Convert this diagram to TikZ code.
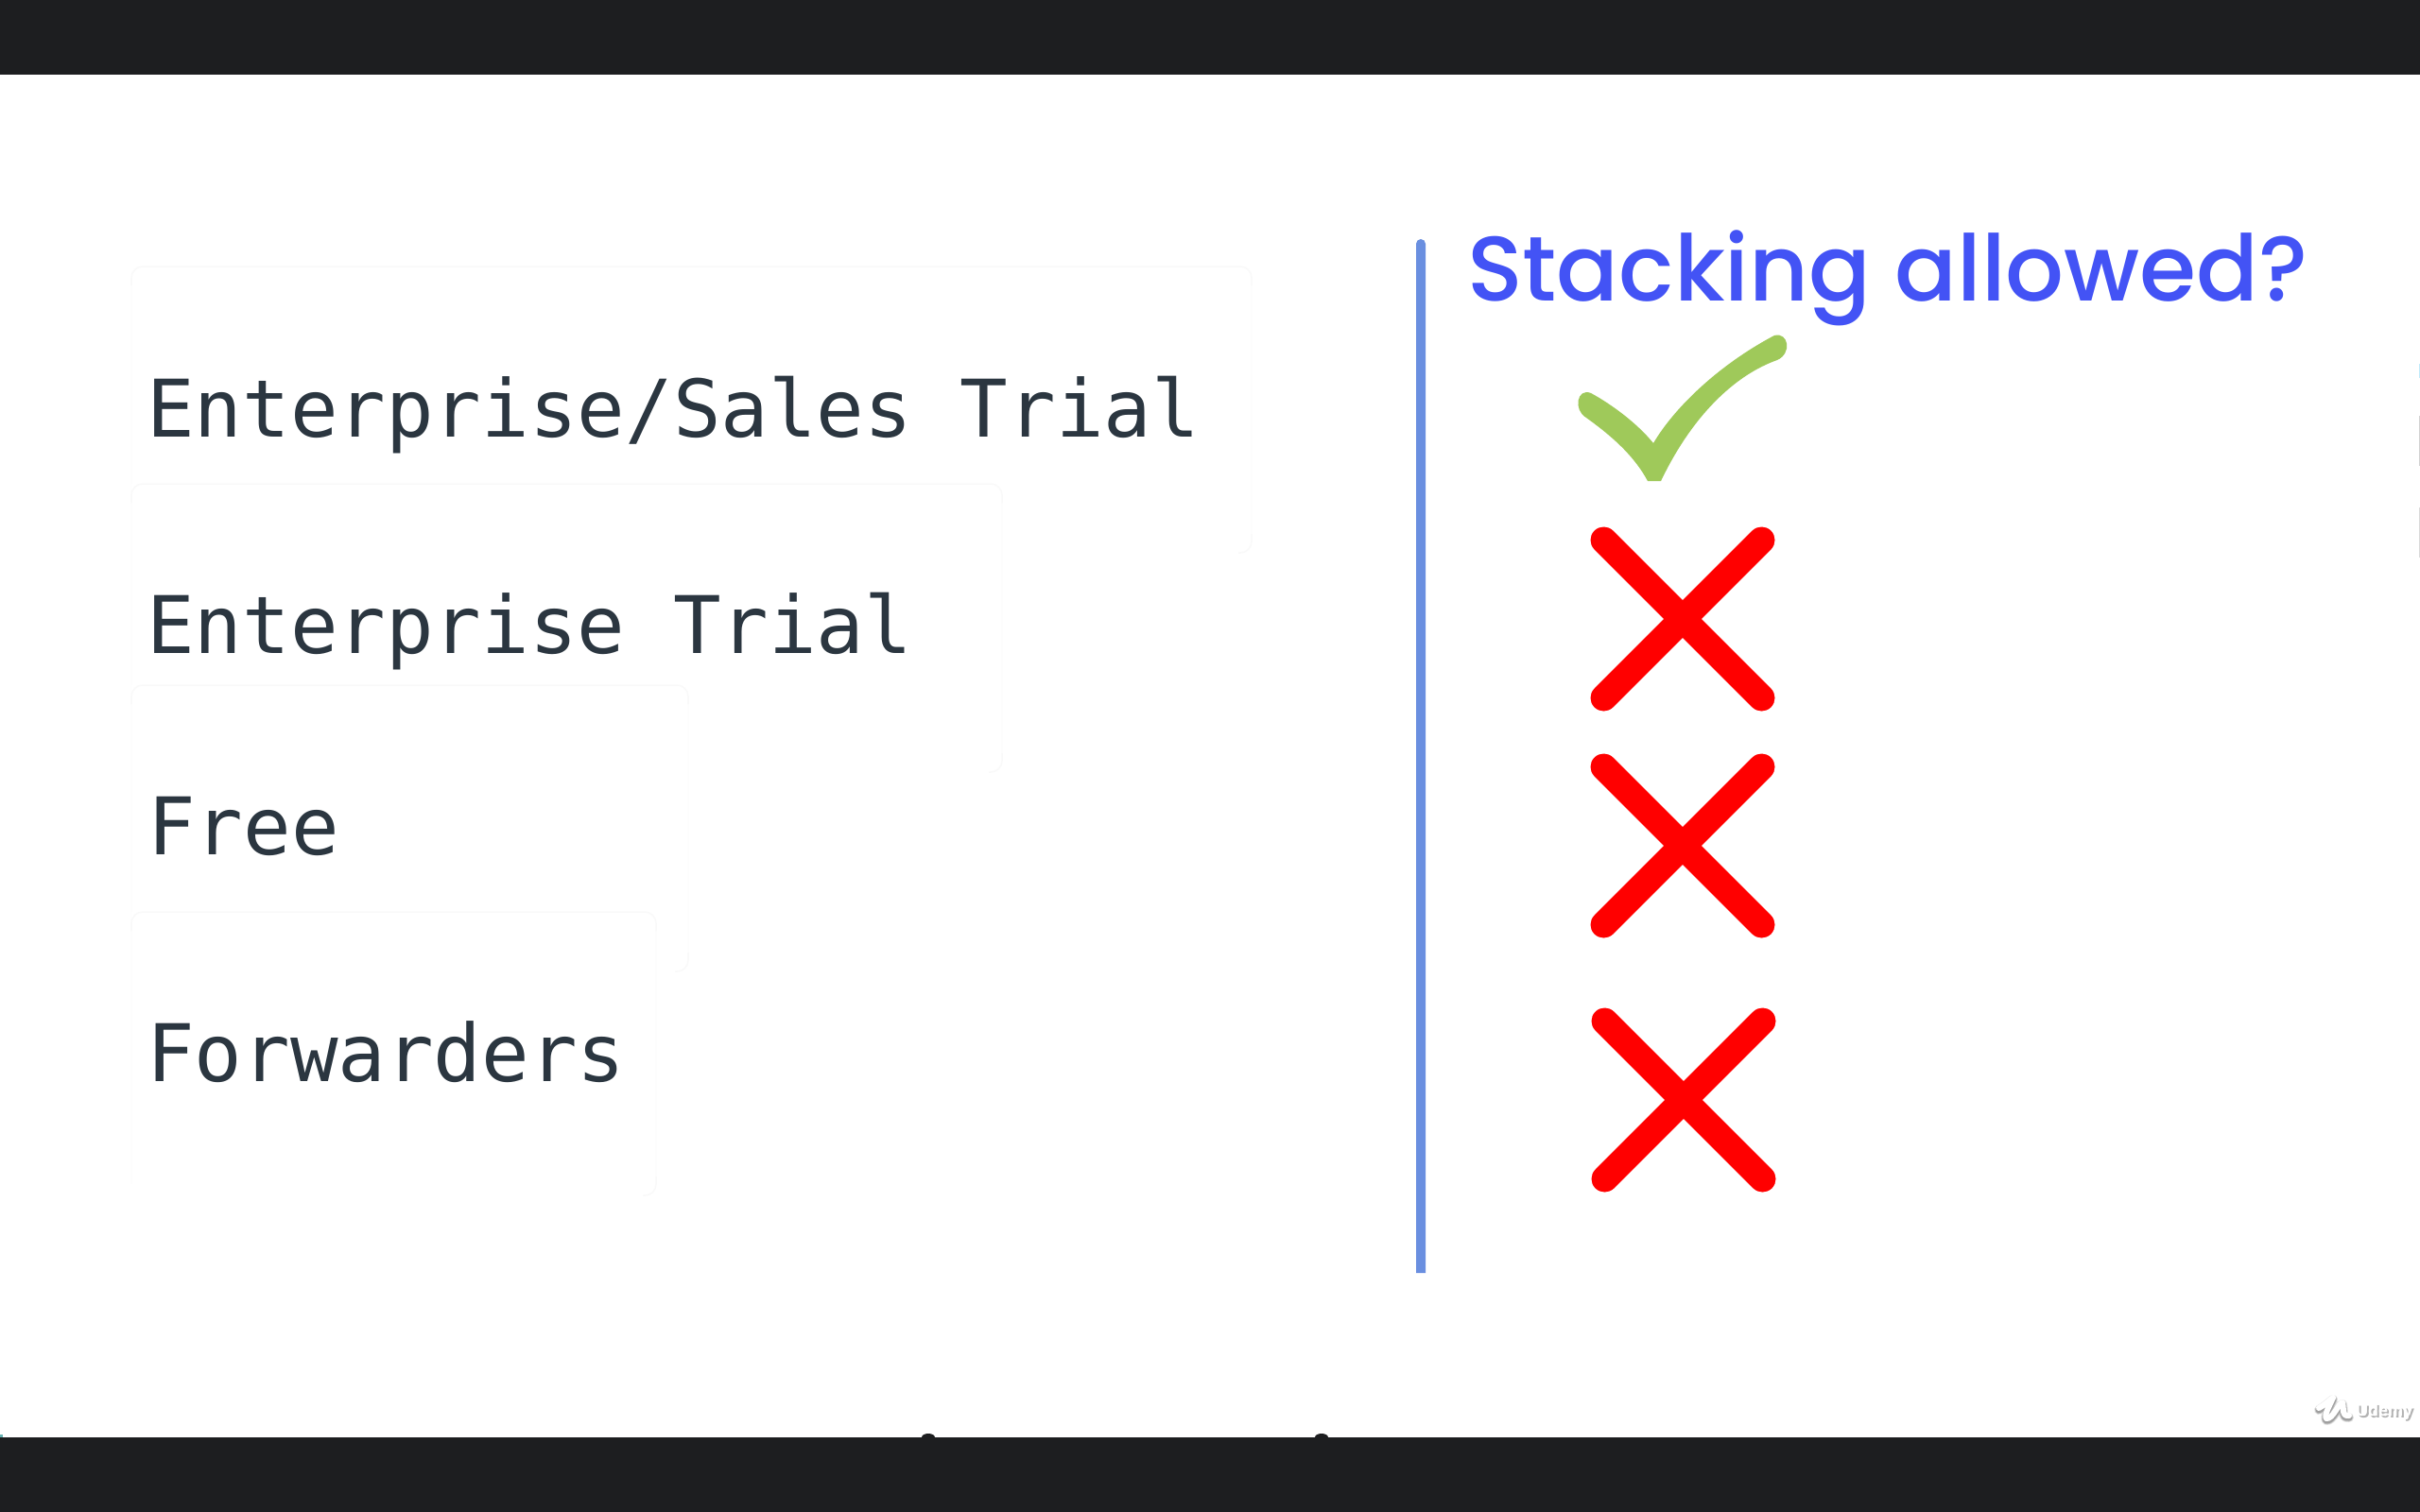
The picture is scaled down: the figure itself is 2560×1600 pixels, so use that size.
\documentclass[tikz,border=0pt]{standalone}
\usepackage{fontspec}
\setmainfont{DejaVu Sans Mono}
\newfontfamily\titlefont{Poppins Medium}
\newfontfamily\markfont{Liberation Sans}
\definecolor{barcol}{HTML}{1D1E20}
\definecolor{rowtext}{HTML}{2B3640}
\definecolor{titlecol}{HTML}{4353F5}
\definecolor{rulecol}{HTML}{6A8FE0}
\definecolor{okcol}{HTML}{9FC95A}
\definecolor{nocol}{HTML}{FF0000}
\definecolor{cardedge}{HTML}{F9F9F9}
\definecolor{cardside}{HTML}{FDFDFD}
\tikzset{
  x=1pt,y=-1pt,
  cardfill/.style={fill=white},
  cardtop/.style={draw=cardedge,line width=1.5pt,rounded corners=12pt},
  cardsides/.style={draw=cardside,line width=1.5pt},
  rowlabel/.style={anchor=base west,inner sep=0pt,text=rowtext,font=\fontsize{84.1}{90}\selectfont},
  nostroke/.style={draw=nocol,line width=28pt,line cap=round},
}
\newcommand{\nomark}[3]{%
  \coordinate (#1) at (#2,#3);
  \draw[nostroke] ([xshift=-83.5pt,yshift=83.5pt]#1) -- ([xshift=83.5pt,yshift=-83.5pt]#1);
  \draw[nostroke] ([xshift=-83.5pt,yshift=-83.5pt]#1) -- ([xshift=83.5pt,yshift=83.5pt]#1);
}
\newcommand{\cardbox}[4]{% left, top, right, bottom
  \fill[cardfill] (#1,#2) rectangle (#3,#4);
  \draw[cardsides] (#1,#2+12) -- (#1,#4-12);
  \draw[cardsides] (#3,#2+12) -- (#3,#4-12);
  \draw[cardtop] (#1,#2+20) -- (#1,#2) -- (#3,#2) -- (#3,#2+20);
  \draw[cardtop] (#3,#4-20) -- (#3,#4) -- (#3-14,#4);
}
\begin{document}
\begin{tikzpicture}
\useasboundingbox (0,0) rectangle (2560,1600);
\fill[white] (0,0) rectangle (2560,1600);
% cards
\cardbox{139}{282}{1324}{585}
\cardbox{139}{512}{1060}{817}
\cardbox{139}{725}{728}{1028}
\cardbox{139}{965}{694}{1265}
% rows
\node[rowlabel] (r1) at (155,462) {Enterprise/Sales Trial};
\node[rowlabel] (r2) at (155,691) {Enterprise Trial};
\node[rowlabel] (r3) at (156,904) {Free};
\node[rowlabel] (r4) at (155,1144) {Forwarders};
% rule
\fill[rulecol] (1498,258) arc[start angle=180,end angle=0,radius=5pt] -- (1508,1347) -- (1498,1347) -- cycle;
% title
\node[anchor=base west,inner sep=0pt,text=titlecol,font=\titlefont\fontsize{97.1}{110}\selectfont] (title) at (1552,318) {Stacking allowed?};
% check
\fill[okcol] (1683,416) .. controls (1705,428) and (1732,448) .. (1749,469)
  .. controls (1772,430) and (1820,385) .. (1877,355)
  .. controls (1892,351) and (1896,374) .. (1880,381)
  .. controls (1835,397) and (1790,440) .. (1757,509)
  -- (1743,509)
  .. controls (1730,485) and (1710,465) .. (1678,442)
  .. controls (1664,434) and (1668,410) .. (1683,416) -- cycle;
% crosses
\nomark{x1}{1780}{655}
\nomark{x2}{1780}{895}
\nomark{x3}{1781}{1164}
% bars
\fill[barcol] (0,0) rectangle (2560,79);
\fill[barcol] (982,1521) ellipse (7pt and 4pt);
\fill[barcol] (1398,1521) ellipse (7pt and 4pt);
\fill[barcol] (0,1521) rectangle (2560,1600);
% edge specks
\fill[teal!60] (0,1518) rectangle (3,1521);
\fill[cyan!25] (2558.8,385) rectangle (2560,400);
\fill[black!18] (2558.8,440) rectangle (2560,493);
\fill[black!15] (2558.8,537) rectangle (2560,590);
% watermark
\foreach \o/\s in {0.10/4,0.14/2.5,0.18/1}{
  \draw[black,opacity=\o,line width=6pt+\s pt,line cap=round,line join=round] (2453,1492) .. controls (2460,1488) and (2466,1482) .. (2468,1481) .. controls (2464,1490) and (2458,1500) .. (2461,1503) .. controls (2468,1504) and (2474,1486) .. (2478,1486) .. controls (2480,1492) and (2476,1501) .. (2485,1500);
}
\draw[white,line width=6pt,line cap=round,line join=round] (2453,1490) .. controls (2460,1486) and (2466,1480) .. (2468,1479) .. controls (2464,1488) and (2458,1498) .. (2461,1501) .. controls (2468,1502) and (2474,1484) .. (2478,1484) .. controls (2480,1490) and (2476,1499) .. (2485,1498);
\node[anchor=base west,inner sep=0pt,text=black!30,font=\markfont\bfseries\fontsize{18}{20}\selectfont] (wm0) at (2494,1500) {Udemy};
\node[anchor=base west,inner sep=0pt,text=white,font=\markfont\bfseries\fontsize{18}{20}\selectfont] (wm) at (2492,1498) {Udemy};
\end{tikzpicture}
\end{document}
